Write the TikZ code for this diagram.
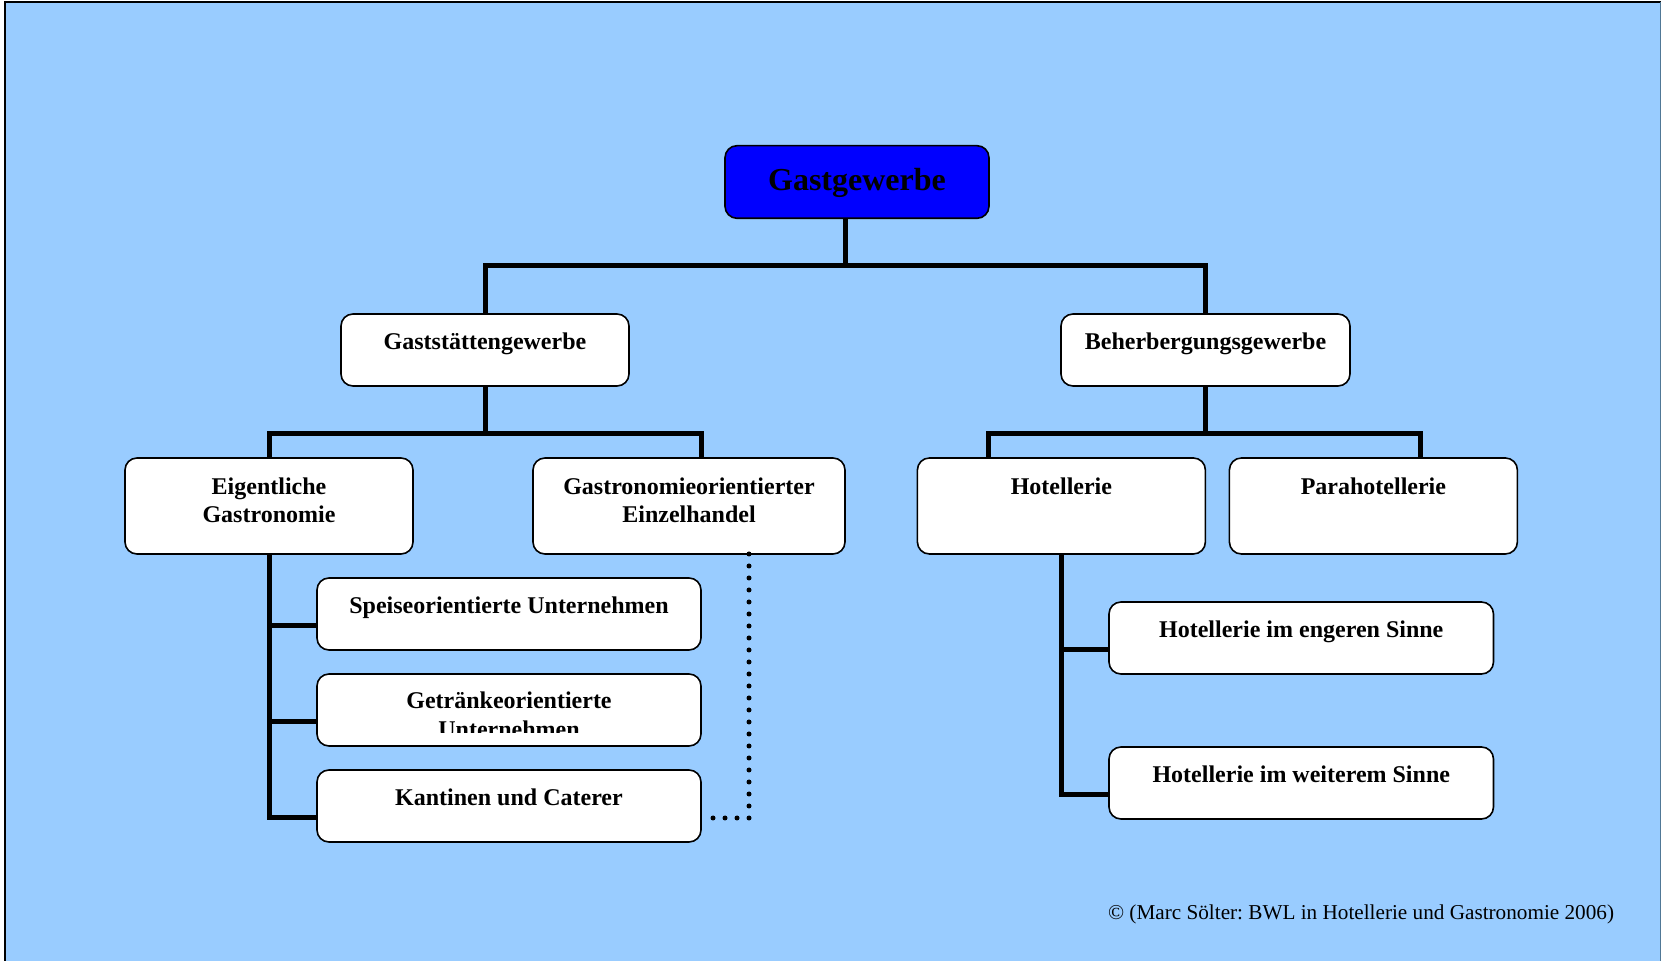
\documentclass[tikz,border=0pt]{standalone}
\usepackage{fontspec}
\setmainfont{Liberation Serif}
\usepackage{tikz}
\usetikzlibrary{positioning}
\definecolor{skyblue}{RGB}{153,204,255}
\definecolor{edgegray}{RGB}{80,120,150}
\frenchspacing
\newcommand{\boxtext}[4][18pt]{\parbox[c][#3][t]{#2}{\centering\rule{0pt}{#1}#4}}
\tikzset{
  orgbox/.style={draw=black, line width=0.8pt, fill=white, rounded corners=6pt,
    inner sep=0pt, outer sep=0pt, font=\fontsize{12}{14.2}\selectfont\bfseries},
  headbox/.style={orgbox, fill=blue, font=\fontsize{16}{19}\selectfont\bfseries},
  tie/.style={line width=2.5pt, line join=miter},
  dotline/.style={line width=2.5pt, line cap=round, dash pattern=on 0pt off 6pt}
}

\begin{document}
\begin{tikzpicture}[x=0.5pt, y=-0.5pt]
  \useasboundingbox (0,0) rectangle (1661,961);
  \fill[skyblue] (5,2) rectangle (1661,961);
  \draw[line width=1pt] (5,961) -- (5,2) -- (1661,2);
  \draw[edgegray, line width=0.5pt] (1660.5,2) -- (1660.5,961);

  \node[headbox] (gast) at (857,182) {\boxtext[22.2pt]{132pt}{36.3pt}{Gastgewerbe}};
  \node[orgbox] (gstaette) at (485,350) {\boxtext{144pt}{36pt}{Gaststättengewerbe}};
  \node[orgbox] (beher) at (1205.5,350) {\boxtext{144.5pt}{36pt}{Beherbergungsgewerbe}};

  \node[orgbox] (eig) at (269,506) {\boxtext[18.3pt]{144pt}{48pt}{Eigentliche\\Gastronomie}};
  \node[orgbox] (einz) [right=60pt of eig] {\boxtext[18.3pt]{156pt}{48pt}{Gastronomieorientierter\\Einzelhandel}};
  \node[orgbox] (hot) at (1061.4,506) {\boxtext[18.3pt]{144pt}{48pt}{Hotellerie}};
  \node[orgbox] (para) [right=12pt of hot] {\boxtext[18.3pt]{144pt}{48pt}{Parahotellerie}};

  \node[orgbox] (speise) at (509,614) {\boxtext{192pt}{36pt}{Speiseorientierte Unternehmen}};
  \node[orgbox] (getr) [below=12pt of speise] {\boxtext[17.5pt]{192pt}{36pt}{Getränkeorientierte\\Unternehmen}};
  \node[orgbox] (kant) [below=12pt of getr] {\boxtext{192pt}{36pt}{Kantinen und Caterer}};
  \node[orgbox] (enger) at (1301.25,638) {\boxtext{192.25pt}{36pt}{Hotellerie im engeren Sinne}};
  \node[orgbox] (weiter) [below=36.5pt of enger] {\boxtext{192.25pt}{36pt}{Hotellerie im weiterem Sinne}};

  % second text line of this box is cut off in the original
  \fill[white] (332,733.5) rectangle (686,744.6);

  \node[anchor=base west, font=\fontsize{10.6}{12}\selectfont] (src) at (1101,920)
    {© (Marc Sölter: BWL in Hotellerie und Gastronomie 2006)};

  \coordinate (hub0) at (845.3,266);
  \coordinate (hub1) at (485,434);
  \coordinate (hub1r) at (701.7,434);
  \coordinate (hub2) at (1205.5,434);
  \coordinate (hub2l) at (988.6,434);
  \coordinate (hub2r) at (1420.6,434);
  \coordinate (s1) at ([yshift=-6pt]speise.west);
  \coordinate (s2) at ([yshift=-6pt]getr.west);
  \coordinate (s3) at ([yshift=-6pt]kant.west);
  \coordinate (h1) at ([yshift=-6pt]enger.west);
  \coordinate (h2) at ([yshift=-6pt]weiter.west);
  \coordinate (dotturn) at (749,818);
  \coordinate (dotend) at (713,818);

  \draw[tie] (gast.south -| hub0) -- (hub0);
  \draw[tie] (gstaette.north) |- (hub0) -| (beher.north);
  \draw[tie] (gstaette.south) -- (hub1);
  \draw[tie] (eig.north) |- (hub1r) -- (hub1r |- einz.north);
  \draw[tie] (beher.south) -- (hub2);
  \draw[tie] (hub2l |- hot.north) -- (hub2l) -- (hub2r) -- (hub2r |- para.north);

  \draw[tie] (eig.south) |- (s3);
  \draw[tie] (s1 -| eig.south) -- (s1);
  \draw[tie] (s2 -| eig.south) -- (s2);
  \draw[tie] (hot.south) |- (h2);
  \draw[tie] (h1 -| hot.south) -- (h1);

  \draw[dotline] (einz.south -| dotturn) -- (dotturn) -- (dotend);
\end{tikzpicture}
\end{document}
